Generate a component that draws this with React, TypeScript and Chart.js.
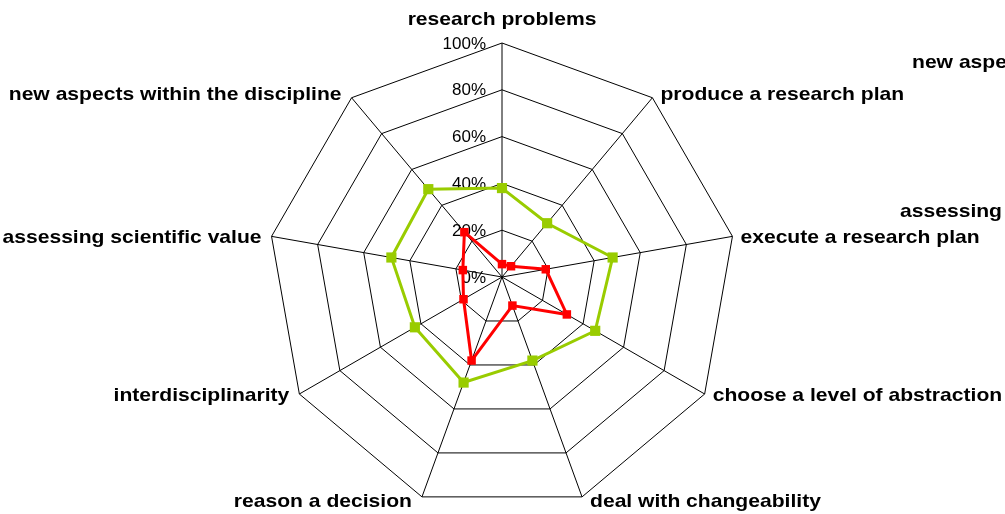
import React, { useEffect, useRef } from "react";
import { Chart, registerables } from "chart.js";

Chart.register(...registerables);

const categories = [
  "research problems",
  "produce a research plan",
  "execute a research plan",
  "choose a level of abstraction",
  "deal with changeability",
  "reason a decision",
  "interdisciplinarity",
  "assessing scientific value",
  "new aspects within the discipline",
];

const greenValues = [38, 30, 48, 46, 38, 48, 43, 48, 49];
const redValues = [5.5, 6, 19, 32, 13, 38, 19, 17, 25];

const tickValues = [0, 20, 40, 60, 80, 100];
const tickLabels = ["0%", "20%", "40%", "60%", "80%", "100%"];

const clippedLabels = ["new aspects within the discipline", "assessing scientific value"];

const LABEL_FONT = 'bold 19px "Liberation Sans", Arial, sans-serif';
const TICK_FONT = '17px "Liberation Sans", Arial, sans-serif';
const STRETCH = 1.11;

function stretchedText(ctx: any, text: string, x: number, y: number, align: string) {
  ctx.save();
  ctx.translate(x, y);
  ctx.scale(STRETCH, 1);
  ctx.textAlign = align;
  ctx.fillText(text, 0, 0);
  ctx.restore();
}

const labelPlugin = {
  id: "customLabels",
  beforeDatasetsDraw(chart: any) {
    const scale = chart.scales.r;
    const ctx = chart.ctx;
    ctx.save();
    ctx.font = TICK_FONT;
    ctx.fillStyle = "#000";
    ctx.textAlign = "right";
    ctx.textBaseline = "middle";
    tickValues.forEach((v, i) => {
      const d = scale.getDistanceFromCenterForValue(v);
      ctx.fillText(tickLabels[i], scale.xCenter - 16, scale.yCenter - d + 1);
    });
    ctx.restore();
  },
  afterDraw(chart: any) {
    const scale = chart.scales.r;
    const ctx = chart.ctx;
    ctx.save();
    ctx.font = LABEL_FONT;
    ctx.fillStyle = "#000";
    ctx.textBaseline = "middle";
    const n = categories.length;
    const dyByStep = [0, -3, 1, 2, 5];
    categories.forEach((label, i) => {
      const p = scale.getPointPosition(i, scale.drawingArea);
      if (i === 0) {
        ctx.textBaseline = "alphabetic";
        stretchedText(ctx, label, p.x, p.y - 18, "center");
        ctx.textBaseline = "middle";
        return;
      }
      const right = i <= n / 2;
      const step = right ? i : n - i;
      const dy = dyByStep[step];
      if (right) stretchedText(ctx, label, p.x + 8, p.y + dy, "left");
      else stretchedText(ctx, label, p.x - 10, p.y + dy, "right");
    });
    // labels of a neighbouring chart, cut off by the right edge
    stretchedText(ctx, clippedLabels[0], 912, 63, "left");
    stretchedText(ctx, clippedLabels[1], 900, 212, "left");
    ctx.restore();
  },
};

export default function App() {
  const ref = useRef<HTMLCanvasElement>(null);
  useEffect(() => {
    const chart = new Chart(ref.current!, {
      type: "radar",
      data: {
        labels: categories,
        datasets: [
          {
            label: "red",
            data: redValues,
            borderColor: "#FF0000",
            backgroundColor: "#FF0000",
            borderWidth: 3,
            pointStyle: "rect",
            pointRadius: 6,
            pointBorderWidth: 0,
            pointBackgroundColor: "#FF0000",
            fill: false,
          },
          {
            label: "green",
            data: greenValues,
            borderColor: "#99CC00",
            backgroundColor: "#99CC00",
            borderWidth: 3,
            pointStyle: "rect",
            pointRadius: 7.2,
            pointBorderWidth: 0,
            pointBackgroundColor: "#99CC00",
            fill: false,
          },
        ],
      },
      options: {
        responsive: false,
        animation: false,
        layout: { padding: { left: 268, right: 269, top: 43, bottom: 3 } },
        plugins: { legend: { display: false }, tooltip: { enabled: false } },
        elements: { line: { tension: 0 } },
        scales: {
          r: {
            min: 0,
            max: 100,
            ticks: { stepSize: 20, display: false },
            grid: { color: "#000", lineWidth: 1 },
            angleLines: { color: "#000", lineWidth: 1 },
            pointLabels: { display: false },
          },
        },
      },
      plugins: [labelPlugin],
    });
    return () => chart.destroy();
  }, []);
  return (
    <div style={{ position: "fixed", left: 0, top: 0, width: 1005, height: 514, background: "#fff" }}>
      <canvas ref={ref} width={1005} height={514} />
    </div>
  );
}
